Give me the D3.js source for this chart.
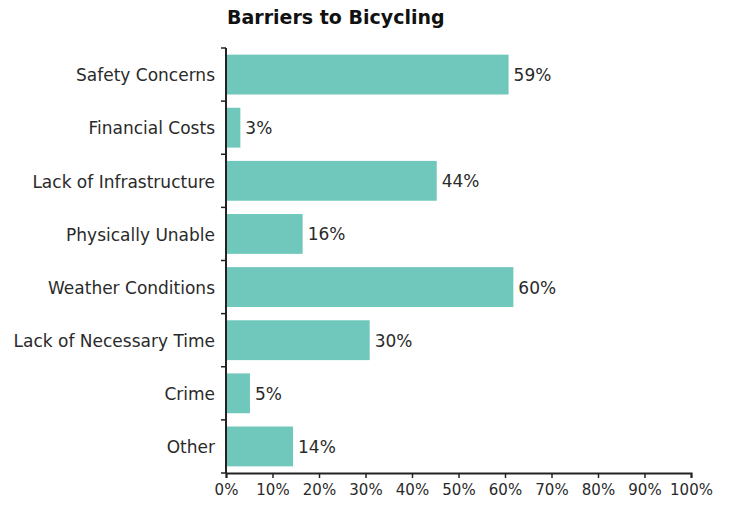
<!DOCTYPE html>
<html>
<head>
<meta charset="utf-8">
<script src="https://cdn.jsdelivr.net/npm/d3@7"></script>
<style>
  body { margin: 0; background: #fff; }
  text { font-family: "DejaVu Sans", Verdana, sans-serif; fill: #2a2a2a; }
</style>
</head>
<body>
<svg id="chart"></svg>
<script>
// data
var categories = ["Safety Concerns", "Financial Costs", "Lack of Infrastructure", "Physically Unable",
                  "Weather Conditions", "Lack of Necessary Time", "Crime", "Other"];
var values = [59, 3, 44, 16, 60, 30, 5, 14];
var xTicks = [0, 10, 20, 30, 40, 50, 60, 70, 80, 90, 100];

var margin = {top: 48, right: 47, bottom: 32, left: 226},
    width = 738 - margin.left - margin.right,
    height = 505 - margin.top - margin.bottom;

var svg = d3.select("#chart")
    .attr("width", 738)
    .attr("height", 505)
  .append("g")
    .attr("transform", "translate(" + margin.left + "," + margin.top + ")");

var x = d3.scaleLinear().domain([0, 100]).range([0, width]);
// the original draws its bars on a slightly longer scale than the axis
var xBar = d3.scaleLinear().domain([0, 100]).range([0, width * 1.03]);
var y = d3.scaleBand().domain(categories).range([0, height]).paddingInner(0.25).paddingOuter(0.125);

// title
svg.append("text")
    .attr("x", 1)
    .attr("y", -24)
    .style("font-size", "19px")
    .style("font-weight", "bold")
    .style("fill", "#111")
    .text("Barriers to Bicycling");

var data = categories.map(function(c, i) { return {name: c, value: values[i]}; });

// bars
svg.selectAll(".bar")
    .data(data)
  .enter().append("rect")
    .attr("class", "bar")
    .attr("x", 0)
    .attr("y", function(d) { return y(d.name); })
    .attr("width", function(d) { return xBar(d.value); })
    .attr("height", y.bandwidth())
    .attr("fill", "#70c8bc");

// value labels
svg.selectAll(".lbl")
    .data(data)
  .enter().append("text")
    .attr("class", "lbl")
    .attr("x", function(d) { return xBar(d.value) + 5; })
    .attr("y", function(d) { return y(d.name) + y.bandwidth() / 2; })
    .attr("dy", "0.38em")
    .style("font-size", "17px")
    .text(function(d) { return d.value + "%"; });

// y axis: category labels + ticks at band edges
var yAxis = svg.append("g");
yAxis.selectAll(".cat")
    .data(categories)
  .enter().append("text")
    .attr("x", -11)
    .attr("y", function(d) { return y(d) + y.bandwidth() / 2; })
    .attr("dy", "0.4em")
    .attr("text-anchor", "end")
    .style("font-size", "17px")
    .text(function(d) { return d; });
yAxis.selectAll(".ytick")
    .data(d3.range(categories.length + 1))
  .enter().append("line")
    .attr("x1", -5).attr("x2", 0)
    .attr("y1", function(i) { return i * y.step(); })
    .attr("y2", function(i) { return i * y.step(); })
    .attr("stroke", "#222").attr("stroke-width", 1.5);
yAxis.append("line")
    .attr("x1", 0).attr("x2", 0)
    .attr("y1", 0).attr("y2", height)
    .attr("stroke", "#222").attr("stroke-width", 2);

// x axis
var xAxis = svg.append("g")
    .attr("transform", "translate(0," + height + ")")
    .call(d3.axisBottom(x).tickValues(xTicks).tickSize(5).tickSizeOuter(5)
      .tickFormat(function(d) { return d + "%"; }));
xAxis.select(".domain").attr("stroke", "#222").attr("stroke-width", 2);
xAxis.selectAll(".tick line").attr("stroke", "#222").attr("stroke-width", 1.5);
xAxis.selectAll(".tick text")
    .attr("y", 11)
    .style("font-size", "15px")
    .style("font-family", "'DejaVu Sans', Verdana, sans-serif")
    .attr("fill", "#2a2a2a");
</script>
</body>
</html>
